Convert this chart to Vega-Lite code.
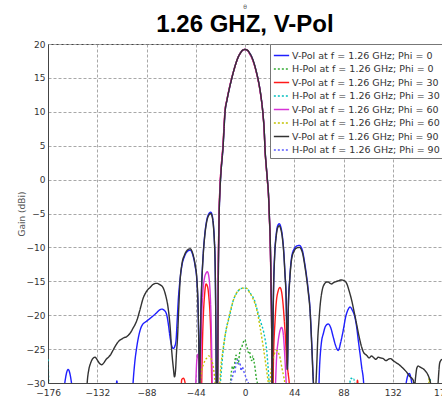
{
"$schema":"https://vega.github.io/schema/vega-lite/v6.json",
"width":394,"height":339,
"autosize":{"type":"none"},
"padding":{"left":48,"top":44,"right":0,"bottom":16},
"background":"white",
"title":{"text":"θ","subtitle":"1.26 GHZ, V-Pol","font":"DejaVu Sans","fontSize":6,"fontWeight":"normal","color":"#555","subtitleFont":"Liberation Sans","subtitleFontSize":24,"subtitleFontWeight":"bold","subtitleColor":"#000","subtitlePadding":3,"offset":3,"anchor":"middle"},
"config":{
 "view":{"stroke":"#444","strokeWidth":1},
 "axis":{"labelFont":"DejaVu Sans","labelFontSize":9,"labelColor":"#333","titleFont":"DejaVu Sans","titleFontSize":9,"titleColor":"#555","titleFontWeight":"normal","gridColor":"#a8a8a8","gridDash":[3,2],"gridWidth":1,"domainColor":"#444","ticks":false,"labelPadding":3,"labelFlush":false},
 "axisX":{"labelPadding":5}
},
"data":{"values":[
{"series":"V0","theta":-176,"gain":-33},{"series":"V0","theta":-163,"gain":-33},{"series":"V0","theta":-161,"gain":-30},{"series":"V0","theta":-158,"gain":-28},{"series":"V0","theta":-155,"gain":-30},{"series":"V0","theta":-153,"gain":-33},{"series":"V0","theta":-116,"gain":-33},{"series":"V0","theta":-114.5,"gain":-29.7},{"series":"V0","theta":-113,"gain":-33},{"series":"V0","theta":-101,"gain":-33},{"series":"V0","theta":-100,"gain":-30},{"series":"V0","theta":-98.5,"gain":-27},{"series":"V0","theta":-96.7,"gain":-24.7},{"series":"V0","theta":-94,"gain":-22.4},{"series":"V0","theta":-92,"gain":-21.5},{"series":"V0","theta":-88,"gain":-20.9},{"series":"V0","theta":-85,"gain":-20.5},{"series":"V0","theta":-80,"gain":-19.8},{"series":"V0","theta":-76,"gain":-19.2},{"series":"V0","theta":-74.4,"gain":-19.1},{"series":"V0","theta":-72,"gain":-19.3},{"series":"V0","theta":-70,"gain":-19.9},{"series":"V0","theta":-68.5,"gain":-21.3},{"series":"V0","theta":-67,"gain":-23.2},{"series":"V0","theta":-65.5,"gain":-24.5},{"series":"V0","theta":-64,"gain":-24.9},{"series":"V0","theta":-62.5,"gain":-24.5},{"series":"V0","theta":-61.6,"gain":-23.7},{"series":"V0","theta":-60.5,"gain":-20.5},{"series":"V0","theta":-59.5,"gain":-17.5},{"series":"V0","theta":-58.5,"gain":-15.5},{"series":"V0","theta":-56.5,"gain":-12.8},{"series":"V0","theta":-54,"gain":-11.3},{"series":"V0","theta":-51.5,"gain":-10.6},{"series":"V0","theta":-49,"gain":-10.4},{"series":"V0","theta":-46.5,"gain":-11.2},{"series":"V0","theta":-44.5,"gain":-12.8},{"series":"V0","theta":-43,"gain":-14.9},{"series":"V0","theta":-42,"gain":-18.5},{"series":"V0","theta":-41.3,"gain":-24},{"series":"V0","theta":-40.6,"gain":-33},{"series":"V0","theta":-39.8,"gain":-23},{"series":"V0","theta":-39,"gain":-17},{"series":"V0","theta":-37.5,"gain":-11.4},{"series":"V0","theta":-36,"gain":-8.2},{"series":"V0","theta":-34.2,"gain":-6},{"series":"V0","theta":-32.5,"gain":-5.1},{"series":"V0","theta":-30.6,"gain":-4.8},{"series":"V0","theta":-29.3,"gain":-5.3},{"series":"V0","theta":-28.3,"gain":-6.5},{"series":"V0","theta":-27.4,"gain":-8.8},{"series":"V0","theta":-26.8,"gain":-11.4},{"series":"V0","theta":-26.3,"gain":-17},{"series":"V0","theta":-25.9,"gain":-24},{"series":"V0","theta":-25.5,"gain":-33},
{"series":"V0","theta":-24.5,"gain":-30},{"series":"V0","theta":-24.1,"gain":-20},{"series":"V0","theta":-23.7,"gain":-12},{"series":"V0","theta":-23.2,"gain":-6},{"series":"V0","theta":-22.4,"gain":-1.8},{"series":"V0","theta":-21.5,"gain":1},{"series":"V0","theta":-20.5,"gain":3},{"series":"V0","theta":-19.6,"gain":4.8},{"series":"V0","theta":-18.8,"gain":7.2},{"series":"V0","theta":-17.9,"gain":9.8},{"series":"V0","theta":-16,"gain":11.8},{"series":"V0","theta":-14,"gain":13.4},{"series":"V0","theta":-12,"gain":14.8},{"series":"V0","theta":-10,"gain":16.1},{"series":"V0","theta":-8,"gain":17.2},{"series":"V0","theta":-6,"gain":18.1},{"series":"V0","theta":-4,"gain":18.7},{"series":"V0","theta":-2,"gain":19.1},{"series":"V0","theta":0,"gain":19.2},{"series":"V0","theta":2,"gain":19.1},{"series":"V0","theta":4,"gain":18.7},{"series":"V0","theta":6,"gain":18.1},{"series":"V0","theta":8,"gain":17.2},{"series":"V0","theta":10,"gain":16},{"series":"V0","theta":11.8,"gain":14.7},{"series":"V0","theta":14,"gain":12.6},{"series":"V0","theta":16,"gain":9.8},{"series":"V0","theta":17.2,"gain":7.2},{"series":"V0","theta":17.9,"gain":4.5},{"series":"V0","theta":19,"gain":2},{"series":"V0","theta":20,"gain":0},{"series":"V0","theta":20.8,"gain":-1.6},{"series":"V0","theta":21.8,"gain":-5.5},{"series":"V0","theta":22.7,"gain":-10},{"series":"V0","theta":23.3,"gain":-16},{"series":"V0","theta":23.8,"gain":-21.2},{"series":"V0","theta":24.1,"gain":-30},
{"series":"V0","theta":24.3,"gain":-36},{"series":"V0","theta":24.8,"gain":-24},{"series":"V0","theta":25.5,"gain":-16},{"series":"V0","theta":26.5,"gain":-11},{"series":"V0","theta":27.8,"gain":-8.2},{"series":"V0","theta":29.2,"gain":-6.8},{"series":"V0","theta":30.6,"gain":-6.5},{"series":"V0","theta":32,"gain":-7},{"series":"V0","theta":33.3,"gain":-8.2},{"series":"V0","theta":34.6,"gain":-10.5},{"series":"V0","theta":35.8,"gain":-14},{"series":"V0","theta":36.6,"gain":-16.5},{"series":"V0","theta":37.2,"gain":-21.2},{"series":"V0","theta":37.8,"gain":-28},{"series":"V0","theta":38.2,"gain":-26},{"series":"V0","theta":38.7,"gain":-18.8},{"series":"V0","theta":40,"gain":-14.5},{"series":"V0","theta":41.7,"gain":-11.4},{"series":"V0","theta":44,"gain":-10.2},{"series":"V0","theta":46,"gain":-9.8},{"series":"V0","theta":48.5,"gain":-9.7},{"series":"V0","theta":51,"gain":-10.3},{"series":"V0","theta":53.6,"gain":-12.6},{"series":"V0","theta":56.5,"gain":-16.3},{"series":"V0","theta":58,"gain":-18.8},{"series":"V0","theta":59.5,"gain":-23.7},{"series":"V0","theta":61,"gain":-29.6},{"series":"V0","theta":61.8,"gain":-33},{"series":"V0","theta":65.5,"gain":-32},{"series":"V0","theta":66.8,"gain":-27},{"series":"V0","theta":68.3,"gain":-24},{"series":"V0","theta":70,"gain":-22.7},{"series":"V0","theta":72,"gain":-21.6},{"series":"V0","theta":74.4,"gain":-21.3},{"series":"V0","theta":76.5,"gain":-21.8},{"series":"V0","theta":78.8,"gain":-23.2},{"series":"V0","theta":81,"gain":-24.5},{"series":"V0","theta":83.3,"gain":-25.2},{"series":"V0","theta":85.5,"gain":-24},{"series":"V0","theta":87.8,"gain":-22.2},{"series":"V0","theta":90,"gain":-20.2},{"series":"V0","theta":92,"gain":-19.2},{"series":"V0","theta":93.8,"gain":-18.8},{"series":"V0","theta":96,"gain":-19.3},{"series":"V0","theta":98.2,"gain":-20.3},{"series":"V0","theta":99.8,"gain":-21.8},{"series":"V0","theta":101.2,"gain":-23.7},{"series":"V0","theta":102.7,"gain":-25.6},{"series":"V0","theta":104.2,"gain":-27.6},{"series":"V0","theta":106,"gain":-30},{"series":"V0","theta":107,"gain":-33},{"series":"V0","theta":142,"gain":-33},{"series":"V0","theta":144,"gain":-30},{"series":"V0","theta":146.7,"gain":-28.6},{"series":"V0","theta":149,"gain":-30},{"series":"V0","theta":151,"gain":-33},{"series":"V0","theta":176,"gain":-33},

{"series":"H0","theta":-176,"gain":-33},{"series":"H0","theta":-14,"gain":-33},{"series":"H0","theta":-13,"gain":-30},{"series":"H0","theta":-12,"gain":-28.2},{"series":"H0","theta":-11,"gain":-27.5},{"series":"H0","theta":-10,"gain":-28},{"series":"H0","theta":-9,"gain":-26.8},{"series":"H0","theta":-8,"gain":-25.9},{"series":"H0","theta":-7,"gain":-26.6},{"series":"H0","theta":-6,"gain":-27.2},{"series":"H0","theta":-5,"gain":-25.8},{"series":"H0","theta":-4,"gain":-25},{"series":"H0","theta":-3,"gain":-24.8},{"series":"H0","theta":-2,"gain":-24.2},{"series":"H0","theta":-1,"gain":-23.8},{"series":"H0","theta":0,"gain":-23.6},{"series":"H0","theta":1,"gain":-24.3},{"series":"H0","theta":2,"gain":-24.8},{"series":"H0","theta":3,"gain":-25.5},{"series":"H0","theta":4,"gain":-25.3},{"series":"H0","theta":5,"gain":-26.4},{"series":"H0","theta":6,"gain":-26.7},{"series":"H0","theta":7,"gain":-26},{"series":"H0","theta":8,"gain":-26.8},{"series":"H0","theta":9,"gain":-27.8},{"series":"H0","theta":10,"gain":-29.2},{"series":"H0","theta":11,"gain":-30},{"series":"H0","theta":12,"gain":-33},{"series":"H0","theta":176,"gain":-33},

{"series":"V30","theta":-176,"gain":-33},{"series":"V30","theta":-58,"gain":-33},{"series":"V30","theta":-56.5,"gain":-29.5},{"series":"V30","theta":-55,"gain":-29.3},{"series":"V30","theta":-53.5,"gain":-30},{"series":"V30","theta":-52,"gain":-33},{"series":"V30","theta":-39.5,"gain":-33},{"series":"V30","theta":-38.7,"gain":-30},{"series":"V30","theta":-38,"gain":-24},{"series":"V30","theta":-37.2,"gain":-20},{"series":"V30","theta":-36.2,"gain":-17.2},{"series":"V30","theta":-34.8,"gain":-15.4},{"series":"V30","theta":-33.3,"gain":-15.9},{"series":"V30","theta":-32.2,"gain":-17.5},{"series":"V30","theta":-31.2,"gain":-20},{"series":"V30","theta":-30.3,"gain":-24.5},{"series":"V30","theta":-29.7,"gain":-30},{"series":"V30","theta":-29,"gain":-34},{"series":"V30","theta":-25.2,"gain":-34},
{"series":"V30","theta":-24.6,"gain":-30},{"series":"V30","theta":-24.2,"gain":-20},{"series":"V30","theta":-23.8,"gain":-12},{"series":"V30","theta":-23.3,"gain":-6},{"series":"V30","theta":-22.5,"gain":-1.5},{"series":"V30","theta":-21.6,"gain":1.2},{"series":"V30","theta":-20.6,"gain":3.2},{"series":"V30","theta":-19.7,"gain":5},{"series":"V30","theta":-18.9,"gain":7.4},{"series":"V30","theta":-18,"gain":9.9},{"series":"V30","theta":-16,"gain":11.9},{"series":"V30","theta":-14,"gain":13.5},{"series":"V30","theta":-12,"gain":14.9},{"series":"V30","theta":-10,"gain":16.1},{"series":"V30","theta":-8,"gain":17.2},{"series":"V30","theta":-6,"gain":18.1},{"series":"V30","theta":-4,"gain":18.7},{"series":"V30","theta":-2,"gain":19.1},{"series":"V30","theta":0,"gain":19.2},{"series":"V30","theta":2,"gain":19.1},{"series":"V30","theta":4,"gain":18.6},{"series":"V30","theta":6,"gain":18},{"series":"V30","theta":8,"gain":17.1},{"series":"V30","theta":10,"gain":15.9},{"series":"V30","theta":11.8,"gain":14.6},{"series":"V30","theta":14,"gain":12.5},{"series":"V30","theta":16,"gain":9.7},{"series":"V30","theta":17.2,"gain":7},{"series":"V30","theta":17.9,"gain":4.3},{"series":"V30","theta":19,"gain":1.8},{"series":"V30","theta":20,"gain":-0.2},{"series":"V30","theta":20.8,"gain":-1.8},{"series":"V30","theta":21.8,"gain":-5.7},{"series":"V30","theta":22.7,"gain":-10.5},{"series":"V30","theta":23.3,"gain":-16.5},{"series":"V30","theta":23.8,"gain":-21.5},{"series":"V30","theta":24.2,"gain":-30},
{"series":"V30","theta":24.7,"gain":-33},{"series":"V30","theta":25.5,"gain":-26},{"series":"V30","theta":26.8,"gain":-21},{"series":"V30","theta":28,"gain":-18},{"series":"V30","theta":29.5,"gain":-16.5},{"series":"V30","theta":31.2,"gain":-15.9},{"series":"V30","theta":32.5,"gain":-16.4},{"series":"V30","theta":33.8,"gain":-18},{"series":"V30","theta":35,"gain":-20.5},{"series":"V30","theta":36.2,"gain":-23.5},{"series":"V30","theta":37,"gain":-26},{"series":"V30","theta":38.5,"gain":-28.5},{"series":"V30","theta":39.5,"gain":-30},{"series":"V30","theta":40.5,"gain":-33},{"series":"V30","theta":99,"gain":-33},{"series":"V30","theta":100.5,"gain":-29.6},{"series":"V30","theta":102,"gain":-33},{"series":"V30","theta":176,"gain":-33},

{"series":"H30","theta":-176,"gain":-26.5},{"series":"H30","theta":-175.3,"gain":-30},{"series":"H30","theta":-174.5,"gain":-33},{"series":"H30","theta":-23,"gain":-33},{"series":"H30","theta":-22,"gain":-30},{"series":"H30","theta":-21,"gain":-28},{"series":"H30","theta":-20,"gain":-26},{"series":"H30","theta":-19,"gain":-24.5},{"series":"H30","theta":-17.9,"gain":-23.2},{"series":"H30","theta":-16.5,"gain":-21.8},{"series":"H30","theta":-14.9,"gain":-20.8},{"series":"H30","theta":-12.5,"gain":-19.2},{"series":"H30","theta":-10.4,"gain":-17.8},{"series":"H30","theta":-8,"gain":-16.9},{"series":"H30","theta":-6,"gain":-16.4},{"series":"H30","theta":-4,"gain":-16.1},{"series":"H30","theta":-2,"gain":-16},{"series":"H30","theta":0,"gain":-16},{"series":"H30","theta":2,"gain":-16.1},{"series":"H30","theta":4.5,"gain":-16.7},{"series":"H30","theta":7,"gain":-17.3},{"series":"H30","theta":8.9,"gain":-18},{"series":"H30","theta":10.4,"gain":-18.9},{"series":"H30","theta":12,"gain":-19.9},{"series":"H30","theta":14,"gain":-21},{"series":"H30","theta":16.3,"gain":-22.2},{"series":"H30","theta":18,"gain":-23.6},{"series":"H30","theta":19.3,"gain":-25},{"series":"H30","theta":20.3,"gain":-27},{"series":"H30","theta":21.2,"gain":-29},{"series":"H30","theta":22,"gain":-31},{"series":"H30","theta":23,"gain":-33},{"series":"H30","theta":93,"gain":-33},{"series":"H30","theta":94,"gain":-29.6},{"series":"H30","theta":95,"gain":-29.3},{"series":"H30","theta":96,"gain":-29.5},{"series":"H30","theta":97,"gain":-29.4},{"series":"H30","theta":98,"gain":-30},{"series":"H30","theta":98.8,"gain":-33},{"series":"H30","theta":164,"gain":-33},{"series":"H30","theta":165.3,"gain":-29.3},{"series":"H30","theta":166.5,"gain":-33},{"series":"H30","theta":176,"gain":-33},

{"series":"V60","theta":-176,"gain":-33},{"series":"V60","theta":-45,"gain":-33},{"series":"V60","theta":-44,"gain":-30},{"series":"V60","theta":-43.2,"gain":-27},{"series":"V60","theta":-42.2,"gain":-25.8},{"series":"V60","theta":-41.2,"gain":-26.8},{"series":"V60","theta":-40.4,"gain":-30},{"series":"V60","theta":-39.9,"gain":-33},{"series":"V60","theta":-39.4,"gain":-27},{"series":"V60","theta":-38.8,"gain":-21},{"series":"V60","theta":-37.8,"gain":-17},{"series":"V60","theta":-36.3,"gain":-14.6},{"series":"V60","theta":-34.8,"gain":-13.8},{"series":"V60","theta":-33.6,"gain":-13.6},{"series":"V60","theta":-32.3,"gain":-14.3},{"series":"V60","theta":-31.2,"gain":-16.5},{"series":"V60","theta":-30.4,"gain":-20},{"series":"V60","theta":-29.8,"gain":-25},{"series":"V60","theta":-29.3,"gain":-30},{"series":"V60","theta":-28.6,"gain":-34},{"series":"V60","theta":-25.2,"gain":-34},
{"series":"V60","theta":-24.6,"gain":-30},{"series":"V60","theta":-24.2,"gain":-20},{"series":"V60","theta":-23.8,"gain":-12},{"series":"V60","theta":-23.3,"gain":-6},{"series":"V60","theta":-22.5,"gain":-1.5},{"series":"V60","theta":-21.6,"gain":1.2},{"series":"V60","theta":-20.6,"gain":3.2},{"series":"V60","theta":-19.7,"gain":5},{"series":"V60","theta":-18.9,"gain":7.4},{"series":"V60","theta":-18,"gain":9.9},{"series":"V60","theta":-16,"gain":11.9},{"series":"V60","theta":-14,"gain":13.5},{"series":"V60","theta":-12,"gain":14.9},{"series":"V60","theta":-10,"gain":16.1},{"series":"V60","theta":-8,"gain":17.2},{"series":"V60","theta":-6,"gain":18.1},{"series":"V60","theta":-4,"gain":18.7},{"series":"V60","theta":-2,"gain":19.1},{"series":"V60","theta":0,"gain":19.2},{"series":"V60","theta":2,"gain":19.1},{"series":"V60","theta":4,"gain":18.6},{"series":"V60","theta":6,"gain":18},{"series":"V60","theta":8,"gain":17.1},{"series":"V60","theta":10,"gain":15.9},{"series":"V60","theta":11.8,"gain":14.6},{"series":"V60","theta":14,"gain":12.5},{"series":"V60","theta":16,"gain":9.7},{"series":"V60","theta":17.2,"gain":7},{"series":"V60","theta":17.9,"gain":4.3},{"series":"V60","theta":19,"gain":1.8},{"series":"V60","theta":20,"gain":-0.2},{"series":"V60","theta":20.8,"gain":-1.8},{"series":"V60","theta":21.8,"gain":-5.7},{"series":"V60","theta":22.7,"gain":-10.5},{"series":"V60","theta":23.3,"gain":-16.5},{"series":"V60","theta":23.8,"gain":-21.5},{"series":"V60","theta":24.2,"gain":-30},
{"series":"V60","theta":25,"gain":-34},{"series":"V60","theta":26.5,"gain":-34},{"series":"V60","theta":27.3,"gain":-30},{"series":"V60","theta":28.3,"gain":-26},{"series":"V60","theta":29.5,"gain":-24},{"series":"V60","theta":30.8,"gain":-22.6},{"series":"V60","theta":32.7,"gain":-21.8},{"series":"V60","theta":34,"gain":-22.5},{"series":"V60","theta":35,"gain":-24.5},{"series":"V60","theta":36,"gain":-27.5},{"series":"V60","theta":36.8,"gain":-30},{"series":"V60","theta":37.5,"gain":-33},{"series":"V60","theta":176,"gain":-33},

{"series":"H60","theta":-176,"gain":-33},{"series":"H60","theta":-41,"gain":-33},{"series":"H60","theta":-40,"gain":-30},{"series":"H60","theta":-38.5,"gain":-28},{"series":"H60","theta":-37,"gain":-27.2},{"series":"H60","theta":-35.5,"gain":-26.6},{"series":"H60","theta":-34,"gain":-26.3},{"series":"H60","theta":-32.5,"gain":-26},{"series":"H60","theta":-31,"gain":-26.2},{"series":"H60","theta":-29.5,"gain":-26.8},{"series":"H60","theta":-28,"gain":-28},{"series":"H60","theta":-26.8,"gain":-30},{"series":"H60","theta":-26,"gain":-33},{"series":"H60","theta":-23.5,"gain":-33},{"series":"H60","theta":-22.5,"gain":-30},{"series":"H60","theta":-21.5,"gain":-27.5},{"series":"H60","theta":-20,"gain":-25.5},{"series":"H60","theta":-18,"gain":-23.2},{"series":"H60","theta":-15,"gain":-20.8},{"series":"H60","theta":-12.5,"gain":-19},{"series":"H60","theta":-10.4,"gain":-17.8},{"series":"H60","theta":-8,"gain":-16.8},{"series":"H60","theta":-6,"gain":-16.4},{"series":"H60","theta":-4,"gain":-16.1},{"series":"H60","theta":-2,"gain":-16},{"series":"H60","theta":0,"gain":-16},{"series":"H60","theta":2,"gain":-16.1},{"series":"H60","theta":4.5,"gain":-16.8},{"series":"H60","theta":7,"gain":-17.5},{"series":"H60","theta":8.9,"gain":-18.3},{"series":"H60","theta":10.5,"gain":-19.2},{"series":"H60","theta":11.9,"gain":-20.3},{"series":"H60","theta":13.5,"gain":-21.8},{"series":"H60","theta":15,"gain":-23.3},{"series":"H60","theta":16.3,"gain":-24.7},{"series":"H60","theta":17.5,"gain":-26},{"series":"H60","theta":18.8,"gain":-27.5},{"series":"H60","theta":20,"gain":-29},{"series":"H60","theta":20.8,"gain":-30},{"series":"H60","theta":21.5,"gain":-31.5},{"series":"H60","theta":22.3,"gain":-30},{"series":"H60","theta":23.5,"gain":-28},{"series":"H60","theta":25,"gain":-26.5},{"series":"H60","theta":26.5,"gain":-25.6},{"series":"H60","theta":28.3,"gain":-25.2},{"series":"H60","theta":30,"gain":-25.6},{"series":"H60","theta":31.5,"gain":-26.4},{"series":"H60","theta":33,"gain":-27.8},{"series":"H60","theta":34.5,"gain":-29},{"series":"H60","theta":35.5,"gain":-30},{"series":"H60","theta":36.5,"gain":-33},{"series":"H60","theta":163,"gain":-33},{"series":"H60","theta":164.5,"gain":-29.3},{"series":"H60","theta":166,"gain":-33},{"series":"H60","theta":176,"gain":-33},

{"series":"V90","theta":-176,"gain":-27},{"series":"V90","theta":-175,"gain":-33},{"series":"V90","theta":-142,"gain":-33},{"series":"V90","theta":-141,"gain":-30},{"series":"V90","theta":-139.5,"gain":-28},{"series":"V90","theta":-138,"gain":-27.1},{"series":"V90","theta":-136,"gain":-26.4},{"series":"V90","theta":-134,"gain":-26.2},{"series":"V90","theta":-132,"gain":-26.6},{"series":"V90","theta":-130,"gain":-27.1},{"series":"V90","theta":-128,"gain":-27.3},{"series":"V90","theta":-126,"gain":-27},{"series":"V90","theta":-124,"gain":-26.5},{"series":"V90","theta":-122,"gain":-26.2},{"series":"V90","theta":-120,"gain":-25.8},{"series":"V90","theta":-118,"gain":-25.2},{"series":"V90","theta":-116,"gain":-24.6},{"series":"V90","theta":-114.5,"gain":-24.2},{"series":"V90","theta":-112,"gain":-23.7},{"series":"V90","theta":-110,"gain":-23.5},{"series":"V90","theta":-108,"gain":-23.3},{"series":"V90","theta":-106,"gain":-23.2},{"series":"V90","theta":-104.5,"gain":-23},{"series":"V90","theta":-102,"gain":-22.5},{"series":"V90","theta":-100,"gain":-21.9},{"series":"V90","theta":-98,"gain":-21.3},{"series":"V90","theta":-96.7,"gain":-20.8},{"series":"V90","theta":-94,"gain":-19.3},{"series":"V90","theta":-91,"gain":-17.5},{"series":"V90","theta":-88,"gain":-16.5},{"series":"V90","theta":-84.8,"gain":-15.9},{"series":"V90","theta":-81.5,"gain":-15.4},{"series":"V90","theta":-78.8,"gain":-15.3},{"series":"V90","theta":-76,"gain":-15.5},{"series":"V90","theta":-73,"gain":-16},{"series":"V90","theta":-71,"gain":-17},{"series":"V90","theta":-68.8,"gain":-18.8},{"series":"V90","theta":-67,"gain":-21.5},{"series":"V90","theta":-65.5,"gain":-25.2},{"series":"V90","theta":-64,"gain":-27.8},{"series":"V90","theta":-63,"gain":-29.1},{"series":"V90","theta":-62,"gain":-28},{"series":"V90","theta":-61.2,"gain":-25.5},{"series":"V90","theta":-60.4,"gain":-23.7},{"series":"V90","theta":-59.2,"gain":-19},{"series":"V90","theta":-58,"gain":-14.9},{"series":"V90","theta":-56.5,"gain":-12.6},{"series":"V90","theta":-54,"gain":-11.1},{"series":"V90","theta":-51.5,"gain":-10.4},{"series":"V90","theta":-49,"gain":-10.2},{"series":"V90","theta":-46.5,"gain":-11},{"series":"V90","theta":-44.5,"gain":-12.6},{"series":"V90","theta":-43,"gain":-14.7},{"series":"V90","theta":-42,"gain":-18.3},{"series":"V90","theta":-41.3,"gain":-24},{"series":"V90","theta":-40.6,"gain":-33},{"series":"V90","theta":-39.8,"gain":-23.3},{"series":"V90","theta":-39,"gain":-17.3},{"series":"V90","theta":-37.5,"gain":-11.6},{"series":"V90","theta":-36,"gain":-8.4},{"series":"V90","theta":-34.2,"gain":-6.2},{"series":"V90","theta":-32.5,"gain":-5.3},{"series":"V90","theta":-30.6,"gain":-5},{"series":"V90","theta":-29.3,"gain":-5.5},{"series":"V90","theta":-28.3,"gain":-6.7},{"series":"V90","theta":-27.4,"gain":-9},{"series":"V90","theta":-26.8,"gain":-11.6},{"series":"V90","theta":-26.3,"gain":-17},{"series":"V90","theta":-25.9,"gain":-24},{"series":"V90","theta":-25.5,"gain":-33},
{"series":"V90","theta":-24.5,"gain":-30},{"series":"V90","theta":-24.1,"gain":-20},{"series":"V90","theta":-23.7,"gain":-12},{"series":"V90","theta":-23.2,"gain":-6},{"series":"V90","theta":-22.4,"gain":-1.8},{"series":"V90","theta":-21.5,"gain":1},{"series":"V90","theta":-20.5,"gain":3},{"series":"V90","theta":-19.6,"gain":4.8},{"series":"V90","theta":-18.8,"gain":7.2},{"series":"V90","theta":-17.9,"gain":9.8},{"series":"V90","theta":-16,"gain":11.8},{"series":"V90","theta":-14,"gain":13.4},{"series":"V90","theta":-12,"gain":14.8},{"series":"V90","theta":-10,"gain":16.1},{"series":"V90","theta":-8,"gain":17.2},{"series":"V90","theta":-6,"gain":18.1},{"series":"V90","theta":-4,"gain":18.7},{"series":"V90","theta":-2,"gain":19.1},{"series":"V90","theta":0,"gain":19.2},{"series":"V90","theta":2,"gain":19.1},{"series":"V90","theta":4,"gain":18.7},{"series":"V90","theta":6,"gain":18.1},{"series":"V90","theta":8,"gain":17.2},{"series":"V90","theta":10,"gain":16},{"series":"V90","theta":11.8,"gain":14.7},{"series":"V90","theta":14,"gain":12.6},{"series":"V90","theta":16,"gain":9.8},{"series":"V90","theta":17.2,"gain":7.2},{"series":"V90","theta":17.9,"gain":4.5},{"series":"V90","theta":19,"gain":2},{"series":"V90","theta":20,"gain":0},{"series":"V90","theta":20.8,"gain":-1.6},{"series":"V90","theta":21.8,"gain":-5.5},{"series":"V90","theta":22.7,"gain":-10},{"series":"V90","theta":23.3,"gain":-16},{"series":"V90","theta":23.8,"gain":-21.2},{"series":"V90","theta":24.1,"gain":-30},
{"series":"V90","theta":24.3,"gain":-36},{"series":"V90","theta":24.8,"gain":-24.5},{"series":"V90","theta":25.5,"gain":-16.5},{"series":"V90","theta":26.5,"gain":-11.3},{"series":"V90","theta":27.8,"gain":-8.5},{"series":"V90","theta":29.2,"gain":-7.1},{"series":"V90","theta":30.6,"gain":-6.8},{"series":"V90","theta":32,"gain":-7.3},{"series":"V90","theta":33.3,"gain":-8.5},{"series":"V90","theta":34.6,"gain":-10.8},{"series":"V90","theta":35.8,"gain":-14.3},{"series":"V90","theta":36.6,"gain":-16.8},{"series":"V90","theta":37.2,"gain":-21.5},{"series":"V90","theta":37.8,"gain":-28},{"series":"V90","theta":38.2,"gain":-26},{"series":"V90","theta":38.7,"gain":-19},{"series":"V90","theta":40,"gain":-14.8},{"series":"V90","theta":41.7,"gain":-11.7},{"series":"V90","theta":44,"gain":-10.5},{"series":"V90","theta":46,"gain":-10.1},{"series":"V90","theta":48.5,"gain":-10},{"series":"V90","theta":51,"gain":-10.6},{"series":"V90","theta":53.6,"gain":-12.9},{"series":"V90","theta":56.5,"gain":-16.6},{"series":"V90","theta":58,"gain":-19.1},{"series":"V90","theta":59.5,"gain":-24},{"series":"V90","theta":61,"gain":-29.6},{"series":"V90","theta":61.8,"gain":-31},{"series":"V90","theta":62.5,"gain":-31.5},{"series":"V90","theta":63.4,"gain":-30},{"series":"V90","theta":64.2,"gain":-27},{"series":"V90","theta":65,"gain":-23.5},{"series":"V90","theta":66,"gain":-21},{"series":"V90","theta":67,"gain":-18.8},{"series":"V90","theta":69,"gain":-16.3},{"series":"V90","theta":71.4,"gain":-15.3},{"series":"V90","theta":73,"gain":-15.1},{"series":"V90","theta":74.4,"gain":-15.1},{"series":"V90","theta":76,"gain":-15.3},{"series":"V90","theta":77.5,"gain":-15.4},{"series":"V90","theta":79,"gain":-15.2},{"series":"V90","theta":80.4,"gain":-15.1},{"series":"V90","theta":83,"gain":-14.95},{"series":"V90","theta":86.3,"gain":-14.8},{"series":"V90","theta":88.5,"gain":-14.9},{"series":"V90","theta":90.8,"gain":-15.3},{"series":"V90","theta":93,"gain":-16.4},{"series":"V90","theta":95.3,"gain":-17.8},{"series":"V90","theta":97.5,"gain":-19.5},{"series":"V90","theta":99.7,"gain":-21.3},{"series":"V90","theta":102,"gain":-23.2},{"series":"V90","theta":104.2,"gain":-24.7},{"series":"V90","theta":106,"gain":-25.5},{"series":"V90","theta":108.6,"gain":-25.9},{"series":"V90","theta":111,"gain":-26.3},{"series":"V90","theta":113,"gain":-26},{"series":"V90","theta":114.6,"gain":-26.2},{"series":"V90","theta":117,"gain":-26.5},{"series":"V90","theta":119,"gain":-26.2},{"series":"V90","theta":121,"gain":-26.3},{"series":"V90","theta":123.5,"gain":-26.4},{"series":"V90","theta":126,"gain":-26.7},{"series":"V90","theta":128,"gain":-26.5},{"series":"V90","theta":130,"gain":-26.4},{"series":"V90","theta":132.4,"gain":-26.7},{"series":"V90","theta":135,"gain":-27},{"series":"V90","theta":138.4,"gain":-27.4},{"series":"V90","theta":141,"gain":-27.8},{"series":"V90","theta":144.4,"gain":-28.4},{"series":"V90","theta":147,"gain":-29},{"series":"V90","theta":150.3,"gain":-29.6},{"series":"V90","theta":151.5,"gain":-30.5},{"series":"V90","theta":152.5,"gain":-29},{"series":"V90","theta":153.5,"gain":-27.8},{"series":"V90","theta":154.7,"gain":-27.5},{"series":"V90","theta":157,"gain":-27.7},{"series":"V90","theta":159.2,"gain":-27.9},{"series":"V90","theta":161.5,"gain":-28.3},{"series":"V90","theta":163.7,"gain":-28.9},{"series":"V90","theta":165.5,"gain":-29.8},{"series":"V90","theta":166.7,"gain":-31},{"series":"V90","theta":170,"gain":-33},{"series":"V90","theta":172,"gain":-31},{"series":"V90","theta":174,"gain":-27},{"series":"V90","theta":176,"gain":-26.5},

{"series":"H90","theta":-176,"gain":-33},{"series":"H90","theta":-14,"gain":-33},{"series":"H90","theta":-12.5,"gain":-30},{"series":"H90","theta":-11,"gain":-29},{"series":"H90","theta":-10,"gain":-28.3},{"series":"H90","theta":-9,"gain":-28.5},{"series":"H90","theta":-8,"gain":-27},{"series":"H90","theta":-7,"gain":-26.8},{"series":"H90","theta":-6.5,"gain":-26.6},{"series":"H90","theta":-5.5,"gain":-27.2},{"series":"H90","theta":-4.5,"gain":-27},{"series":"H90","theta":-3.5,"gain":-28.2},{"series":"H90","theta":-2.5,"gain":-27.6},{"series":"H90","theta":-1.5,"gain":-28},{"series":"H90","theta":-0.5,"gain":-28.6},{"series":"H90","theta":0.5,"gain":-29},{"series":"H90","theta":1.5,"gain":-29.5},{"series":"H90","theta":2.5,"gain":-29.8},{"series":"H90","theta":3,"gain":-30},{"series":"H90","theta":4,"gain":-33},{"series":"H90","theta":176,"gain":-33}
]},
"mark":{"type":"line","clip":true,"strokeWidth":1.4,"interpolate":"monotone"},
"encoding":{
 "x":{"field":"theta","type":"quantitative","scale":{"domain":[-176,176],"nice":false,"zero":false},"axis":{"values":[-176,-132,-88,-44,0,44,88,132,176],"title":null,"grid":true}},
 "y":{"field":"gain","type":"quantitative","scale":{"domain":[-30,20],"nice":false,"zero":false},"axis":{"values":[-30,-25,-20,-15,-10,-5,0,5,10,15,20],"title":"Gain (dBi)","titlePadding":0,"grid":true}},
 "color":{"field":"series","type":"nominal","sort":null,"scale":{"domain":["V0","H0","V30","H30","V60","H60","V90","H90"],"range":["#1f1fff","#33aa33","#ff1a1a","#00bfbf","#d633d6","#c2c200","#333333","#5a5aff"]},
  "legend":{"title":null,"orient":"none","legendX":222,"legendY":0,"padding":3,"rowPadding":0.5,"strokeColor":"#777","fillColor":"#ffffff","symbolType":"stroke","symbolSize":234,"symbolStrokeWidth":1.5,"labelFont":"DejaVu Sans","labelFontSize":9.5,"labelColor":"#333","labelOffset":2,"labelLimit":240,"labelExpr":"(slice(datum.label,0,1)=='V'?'V-Pol':'H-Pol')+' at f = 1.26 GHz; Phi = '+slice(datum.label,1)"}},
 "strokeDash":{"field":"series","type":"nominal","sort":null,"scale":{"domain":["V0","H0","V30","H30","V60","H60","V90","H90"],"range":[[1,0],[2,2],[1,0],[2,2],[1,0],[2,2],[1,0],[2,2]]},
  "legend":{"title":null,"orient":"none","legendX":222,"legendY":0,"padding":3,"rowPadding":0.5,"strokeColor":"#777","fillColor":"#ffffff","symbolType":"stroke","symbolSize":234,"symbolStrokeWidth":1.5,"labelFont":"DejaVu Sans","labelFontSize":9.5,"labelColor":"#333","labelOffset":2,"labelLimit":240,"labelExpr":"(slice(datum.label,0,1)=='V'?'V-Pol':'H-Pol')+' at f = 1.26 GHz; Phi = '+slice(datum.label,1)"}}
}
}
